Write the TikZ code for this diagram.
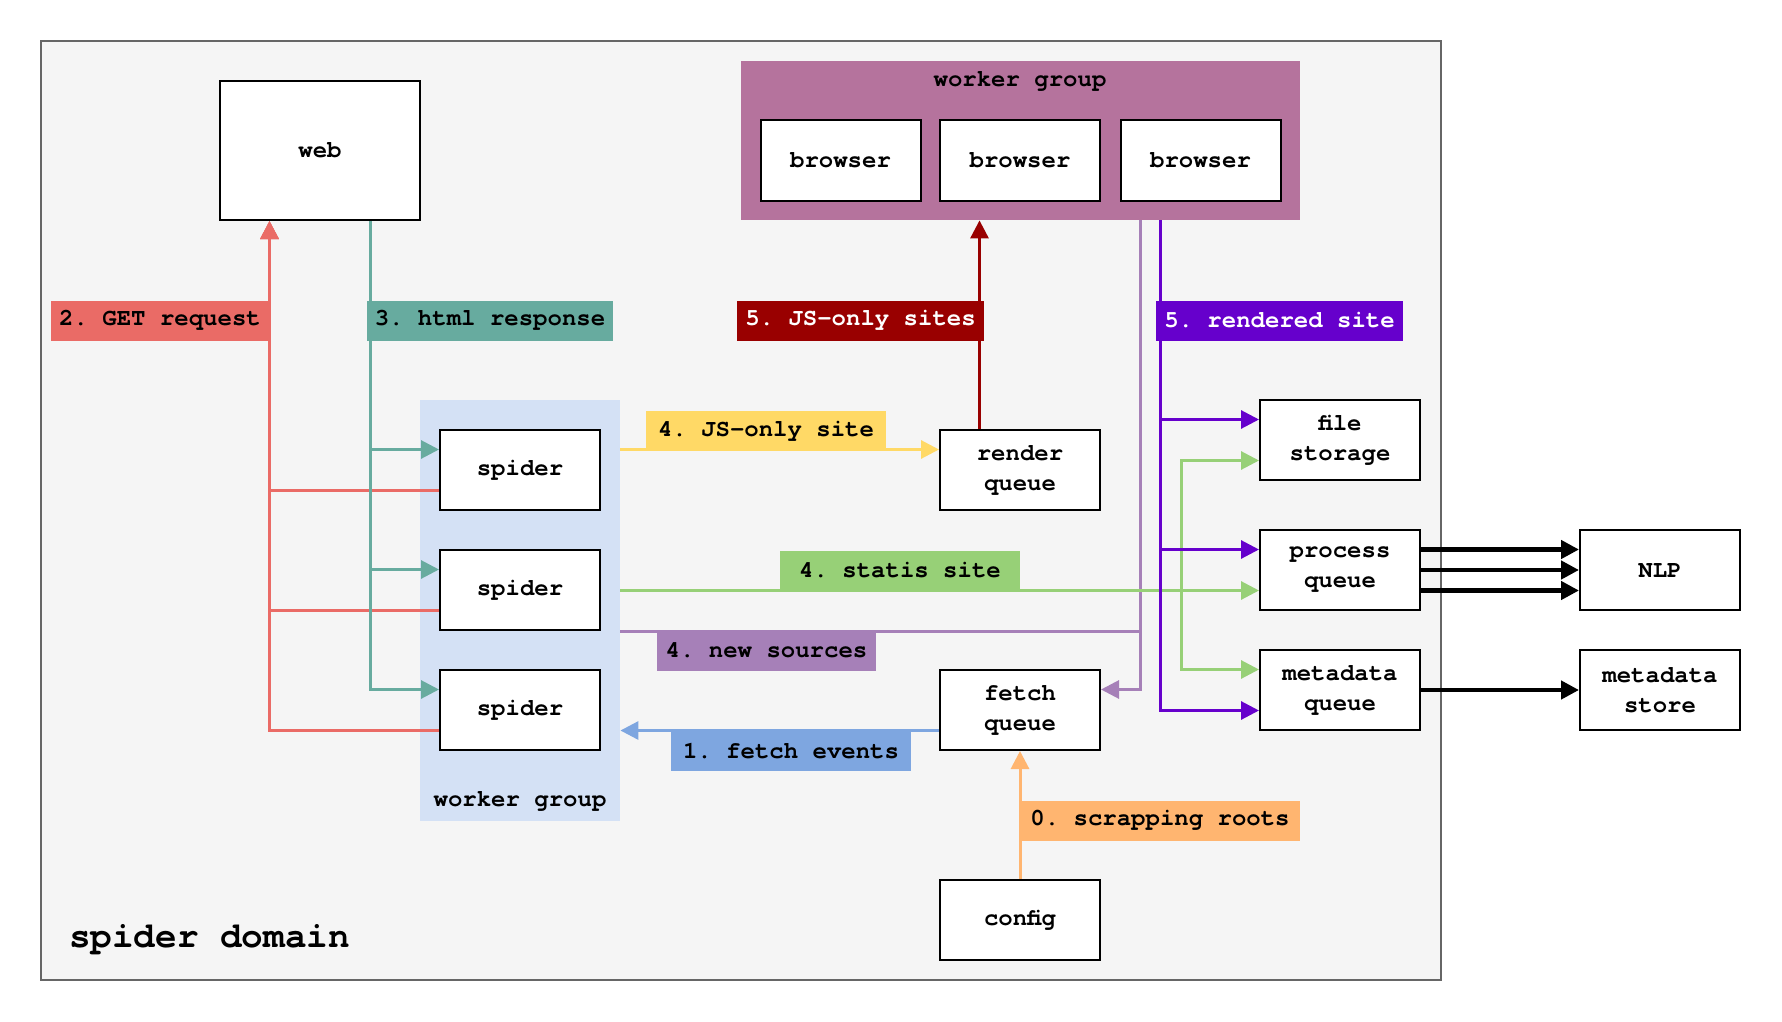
\documentclass[tikz,border=0pt]{standalone}
\usepackage{fontspec}
\setmonofont{TeX Gyre Cursor}
\usetikzlibrary{calc,arrows.meta}

\definecolor{domainbg}{HTML}{F5F5F5}
\definecolor{domainline}{HTML}{666666}
\definecolor{getred}{HTML}{EA6B66}
\definecolor{htmlteal}{HTML}{67AB9F}
\definecolor{browsergrp}{HTML}{B5739D}
\definecolor{spidergrp}{HTML}{D4E1F5}
\definecolor{jsred}{HTML}{990000}
\definecolor{rendviolet}{HTML}{6600CC}
\definecolor{jsyellow}{HTML}{FFD966}
\definecolor{staticgreen}{HTML}{97D077}
\definecolor{srcpurple}{HTML}{A680B8}
\definecolor{fetchblue}{HTML}{7EA6E0}
\definecolor{rootorange}{HTML}{FFB570}

\tikzset{
  mono/.style={font=\ttfamily\bfseries\fontsize{12}{15}\selectfont},
  box/.style={mono,draw,line width=1pt,fill=white,minimum width=80pt,
    minimum height=40pt,align=center,inner sep=2pt},
  tag/.style={mono,fill=#1,inner xsep=4pt,minimum height=20pt,minimum width=120pt},
  link/.style={draw=#1,line width=1.5pt,-{Triangle[length=9pt,width=9pt]}},
  plain/.style={draw=#1,line width=1.5pt},
  heavy/.style={draw=black,line width=2.2pt,-{Triangle[length=9pt,width=9pt]}},
}

\begin{document}
\begin{tikzpicture}[x=0.5pt,y=-0.5pt]
  \useasboundingbox (0,0) rectangle (1782,1022);

  % Spider domain
  \draw[fill=domainbg,draw=domainline,line width=1pt] (41,41) rectangle (1441,980);
  \node[font=\ttfamily\bfseries\fontsize{18}{20}\selectfont,anchor=west] (domain) at (62,940) {spider domain};

  % Worker groups
  \node[fill=browsergrp,minimum width=279.5pt,minimum height=79.5pt] (wgb) at (1020.5,140.5) {};
  \node[mono] (wgblbl) at (1020,81) {worker group};
  \node[fill=spidergrp,minimum width=100pt,minimum height=210.5pt] (wgs) at (520,610.5) {};
  \node[mono] (wgslbl) at (520,801) {worker group};

  % Boxes
  \node[box,minimum width=100pt,minimum height=69.5pt] (web) at (320,150.5) {web};
  \node[box] (br1) at (840.5,160.5) {browser};
  \node[box] (br2) at (1020,160.5) {browser};
  \node[box] (br3) at (1200.5,160.5) {browser};
  \node[box] (sp1) at (520,470) {spider};
  \node[box] (sp2) at (520,590) {spider};
  \node[box] (sp3) at (520,710) {spider};
  \node[box] (rq) at (1020,470) {render\\queue};
  \node[box] (fq) at (1020,710) {fetch\\queue};
  \node[box] (cfg) at (1020,920) {config};
  \node[box] (fs) at (1340,440) {file\\storage};
  \node[box] (pq) at (1340,570) {process\\queue};
  \node[box] (mq) at (1340,690) {metadata\\queue};
  \node[box] (nlp) at (1660,570) {NLP};
  \node[box] (ms) at (1660,690) {metadata\\store};

  % Anchor points
  \coordinate (webin) at ($(web.south west)!0.25!(web.south east)$);
  \coordinate (webout) at ($(web.south west)!0.75!(web.south east)$);
  \coordinate (rendx) at ($(wgb.south west)!0.75!(wgb.south east)$);
  \coordinate (srcx) at ([xshift=-10pt]rendx);
  \coordinate (greenx) at ([xshift=-39pt]pq.west);

  % 2. GET request
  \foreach \s in {sp1,sp2,sp3}
    \draw[link=getred] ($(\s.north west)!0.75!(\s.south west)$) -| (webin);
  % 3. html response
  \foreach \s in {sp1,sp2,sp3}
    \draw[link=htmlteal] (webout) |- ($(\s.north west)!0.25!(\s.south west)$);
  % 4. JS-only site
  \coordinate (rqin) at ($(rq.north west)!0.25!(rq.south west)$);
  \draw[link=jsyellow] (rqin -| wgs.east) -- (rqin);
  % 5. JS-only sites
  \coordinate (rqout) at ($(rq.north west)!0.25!(rq.north east)$);
  \draw[link=jsred] (rqout) -- (rqout |- wgb.south);
  % 4. new sources
  \draw[plain=srcpurple] (wgs.east |- sp2.south) -- (srcx |- sp2.south);
  \draw[link=srcpurple] (srcx) |- ($(fq.north east)!0.25!(fq.south east)$);
  % 4. statis site
  \coordinate (pqin) at ($(pq.north west)!0.75!(pq.south west)$);
  \draw[link=staticgreen] (pqin -| wgs.east) -- (pqin);
  \coordinate (fsin) at ($(fs.north west)!0.75!(fs.south west)$);
  \coordinate (mqin) at ($(mq.north west)!0.25!(mq.south west)$);
  \draw[plain=staticgreen,{Triangle[length=9pt,width=9pt]}-{Triangle[length=9pt,width=9pt]}]
    (fsin) -- (fsin -| greenx) -- (mqin -| greenx) -- (mqin);
  % 5. rendered site
  \coordinate (fsup) at ($(fs.north west)!0.25!(fs.south west)$);
  \coordinate (pqup) at ($(pq.north west)!0.25!(pq.south west)$);
  \draw[link=rendviolet] (rendx) |- ($(mq.north west)!0.75!(mq.south west)$);
  \draw[link=rendviolet] (rendx |- fsup) -- (fsup);
  \draw[link=rendviolet] (rendx |- pqup) -- (pqup);
  % 1. fetch events
  \coordinate (fqout) at ($(fq.north west)!0.75!(fq.south west)$);
  \draw[link=fetchblue] (fqout) -- (fqout -| wgs.east);
  % 0. scrapping roots
  \draw[link=rootorange] (cfg.north) -- (fq.south);
  % Outputs
  \foreach \f in {0.25,0.5,0.75}
    \draw[heavy] ($(pq.north east)!\f!(pq.south east)$) -- ($(nlp.north west)!\f!(nlp.south west)$);
  \draw[heavy] (mq.east) -- (ms.west);

  % Labels
  \node[tag=getred,minimum width=109pt] (lget) at (160,320.5) {2. GET request};
  \node[tag=htmlteal] (lhtml) at (490,320.5) {3. html response};
  \node[tag=jsred,text=white] (ljss) at (860.5,320.5) {5. JS-only sites};
  \node[tag=rendviolet,text=white] (lrend) at (1279.5,320.5) {5. rendered site};
  \node[tag=jsyellow] (ljs) at (766,431) {4. JS-only site};
  \node[tag=staticgreen] (lstat) at (900,570.5) {4. statis site};
  \node[tag=srcpurple,minimum width=109.5pt] (lsrc) at (766.5,650.5) {4. new sources};
  \node[tag=fetchblue] (lfetch) at (791,751) {1. fetch events};
  \node[tag=rootorange,minimum width=140pt] (lroot) at (1160,820.5) {0. scrapping roots};
\end{tikzpicture}
\end{document}
